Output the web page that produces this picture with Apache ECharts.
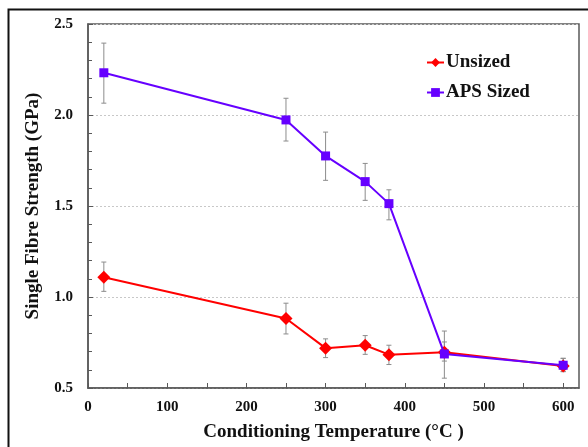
<!DOCTYPE html>
<html>
<head>
<meta charset="utf-8">
<script src="https://cdn.jsdelivr.net/npm/echarts@6/dist/echarts.min.js"></script>
<style>
html,body{margin:0;padding:0;background:#fff;}
#chart{width:588px;height:447px;}
</style>
</head>
<body>
<div id="chart"></div>
<script>
var temperatures = [20, 250, 300, 350, 380, 450, 600];
var unsizedMean = [1.109, 0.882, 0.719, 0.735, 0.683, 0.696, 0.621];
var unsizedLow  = [1.031, 0.797, 0.667, 0.685, 0.629, 0.648, 0.590];
var unsizedHigh = [1.192, 0.966, 0.770, 0.788, 0.735, 0.753, 0.663];
var apsMean = [2.232, 1.973, 1.775, 1.634, 1.513, 0.687, 0.625];
var apsLow  = [2.065, 1.857, 1.641, 1.531, 1.424, 0.554, 0.590];
var apsHigh = [2.395, 2.092, 1.906, 1.734, 1.589, 0.813, 0.663];
var xTickValues = [0, 50, 100, 150, 200, 250, 300, 350, 400, 450, 500, 550, 600];
var xLabelValues = [0, 100, 200, 300, 400, 500, 600];

var FONT = '"Liberation Serif", "Times New Roman", serif';

function pairs(xs, ys) { return xs.map(function (x, i) { return [x, ys[i]]; }); }
function errData(xs, lo, hi) { return xs.map(function (x, i) { return [x, lo[i], hi[i]]; }); }

function errorRender(params, api) {
  var x = api.value(0);
  var lo = api.coord([x, api.value(1)]);
  var hi = api.coord([x, api.value(2)]);
  var cap = 2.5;
  var style = { stroke: '#8c8c8c', lineWidth: 1 };
  return {
    type: 'group',
    children: [
      { type: 'line', shape: { x1: lo[0], y1: lo[1], x2: hi[0], y2: hi[1] }, style: style },
      { type: 'line', shape: { x1: lo[0] - cap, y1: lo[1], x2: lo[0] + cap, y2: lo[1] }, style: style },
      { type: 'line', shape: { x1: hi[0] - cap, y1: hi[1], x2: hi[0] + cap, y2: hi[1] }, style: style }
    ]
  };
}

var chart = echarts.init(document.getElementById('chart'), null, { renderer: 'canvas' });
chart.setOption({
  animation: false,
  backgroundColor: '#fff',
  graphic: [{
    type: 'rect', left: 6, top: 7, silent: true,
    shape: { width: 620, height: 480 },
    style: { fill: 'none', stroke: '#111', lineWidth: 2 }
  }],
  grid: {
    left: 88, top: 24, right: 9, bottom: 56,
    show: true, borderColor: '#595959', borderWidth: 1.5, backgroundColor: 'transparent'
  },
  legend: {
    orient: 'vertical', left: 421, top: 48, itemGap: 11,
    itemWidth: 17, itemHeight: 11,
    textStyle: { fontFamily: FONT, fontWeight: 'bold', fontSize: 19, color: '#111', padding: [0, 0, 0, -3] },
    data: ['Unsized', 'APS Sized']
  },
  xAxis: {
    type: 'value', min: 0, max: 620,
    name: 'Conditioning Temperature (°C )', nameLocation: 'middle', nameGap: 35,
    nameTextStyle: { fontFamily: FONT, fontWeight: 'bold', fontSize: 19, color: '#111' },
    axisLine: { show: true, onZero: false, lineStyle: { color: '#595959', width: 1.5 } },
    axisTick: { show: true, inside: true, length: 5, customValues: xTickValues, lineStyle: { color: '#595959' } },
    axisLabel: { customValues: xLabelValues, margin: 12, fontFamily: FONT, fontWeight: 'bold', fontSize: 15, color: '#111' },
    splitLine: { show: false }
  },
  yAxis: {
    type: 'value', min: 0.5, max: 2.5, interval: 0.5,
    name: 'Single Fibre Strength (GPa)', nameLocation: 'middle', nameGap: 45, nameRotate: 90,
    nameTextStyle: { fontFamily: FONT, fontWeight: 'bold', fontSize: 19, color: '#111' },
    axisLine: { show: true, lineStyle: { color: '#595959', width: 1.5 } },
    axisTick: { show: true, inside: true, length: 5, lineStyle: { color: '#595959' } },
    minorTick: { show: true, splitNumber: 5, length: 4, lineStyle: { color: '#595959' } },
    axisLabel: {
      margin: 15, fontFamily: FONT, fontWeight: 'bold', fontSize: 15, color: '#111',
      formatter: function (v) { return v.toFixed(1); }
    },
    splitLine: { show: true, lineStyle: { color: '#c8c8c8', type: [2, 2], width: 1 } }
  },
  series: [
    {
      type: 'custom', name: 'unsizedErr', renderItem: errorRender,
      data: errData(temperatures, unsizedLow, unsizedHigh), z: 1, silent: true
    },
    {
      type: 'custom', name: 'apsErr', renderItem: errorRender,
      data: errData(temperatures, apsLow, apsHigh), z: 1, silent: true
    },
    {
      type: 'line', name: 'Unsized', data: pairs(temperatures, unsizedMean),
      symbol: 'diamond', symbolSize: 13, z: 3,
      itemStyle: { color: '#ff0000' }, lineStyle: { color: '#ff0000', width: 2 }
    },
    {
      type: 'line', name: 'APS Sized', data: pairs(temperatures, apsMean),
      symbol: 'rect', symbolSize: 9, z: 4,
      itemStyle: { color: '#6600ff' }, lineStyle: { color: '#6600ff', width: 2 }
    }
  ]
});
</script>
</body>
</html>
